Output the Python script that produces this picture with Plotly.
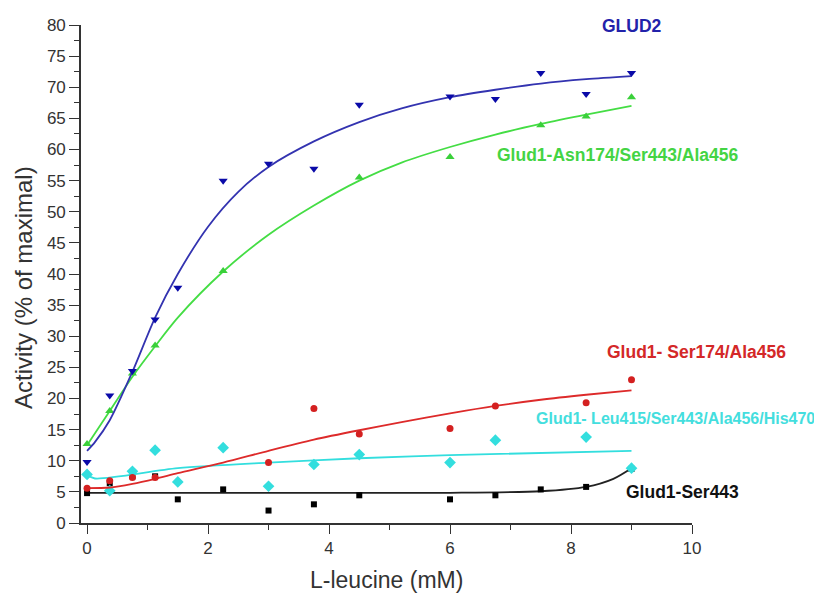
import plotly.graph_objects as go

# ---- data points ----
x_all = [0, 0.375, 0.75, 1.125, 1.5, 2.25, 3, 3.75, 4.5, 6, 6.75, 7.5, 8.25, 9]
glud2_y = [9.8, 20.5, 24.4, 32.7, 37.8, 55.0, 57.7, 56.9, 67.2, 68.5, 68.1, 72.3, 68.9, 72.3]

asn_x = [0, 0.375, 0.75, 1.125, 2.25, 4.5, 6, 7.5, 8.25, 9]
asn_y = [12.7, 18.0, 24.0, 28.5, 40.5, 55.5, 58.8, 63.9, 65.3, 68.4]

ser174_x = [0, 0.375, 0.75, 1.125, 3, 3.75, 4.5, 6, 6.75, 8.25, 9]
ser174_y = [5.6, 6.8, 7.3, 7.3, 9.7, 18.4, 14.3, 15.2, 18.8, 19.3, 23.0]

leu_x = [0, 0.375, 0.75, 1.125, 1.5, 2.25, 3, 3.75, 4.5, 6, 6.75, 8.25, 9]
leu_y = [7.8, 5.2, 8.3, 11.7, 6.6, 12.1, 5.9, 9.4, 11.0, 9.7, 13.3, 13.8, 8.8]

ser443_x = [0, 0.375, 0.75, 1.125, 1.5, 2.25, 3, 3.75, 4.5, 6, 6.75, 7.5, 8.25, 9]
ser443_y = [4.8, 6.4, 7.5, 7.5, 3.8, 5.4, 2.0, 3.0, 4.45, 3.8, 4.45, 5.4, 5.8, 8.7]

# ---- fitted curves ----
glud2_fit_x = [0, 0.13, 0.375, 0.75, 1.125, 1.5, 2.0, 2.5, 3, 3.75, 4.5, 5.2, 6, 6.75, 7.5, 8.25, 9]
glud2_fit_y = [11.6, 13.0, 16.5, 24.3, 33.0, 40.0, 47.6, 53.2, 57.2, 61.3, 64.4, 66.6, 68.4, 69.6, 70.6, 71.3, 71.8]

asn_fit_x = [0, 0.375, 0.75, 1.125, 1.5, 2.25, 3, 3.75, 4.5, 5.2, 6, 6.75, 7.5, 8.25, 9]
asn_fit_y = [12.5, 18.0, 23.5, 28.4, 33.0, 40.4, 46.3, 51.0, 55.0, 57.9, 60.4, 62.4, 64.1, 65.6, 67.0]

ser174_fit_x = [0, 0.375, 0.75, 1.125, 1.5, 2.25, 3, 3.75, 4.5, 5.2, 6, 6.75, 7.5, 8.25, 9]
ser174_fit_y = [5.6, 5.7, 6.3, 7.1, 8.0, 9.7, 11.6, 13.4, 14.9, 16.2, 17.6, 18.8, 19.8, 20.6, 21.3]

leu_fit_x = [0, 0.13, 1.5, 3, 4.5, 6, 9]
leu_fit_y = [7.7, 7.15, 8.8, 9.7, 10.4, 10.9, 11.6]

ser443_fit_x = [0, 3, 6, 7.5, 8.25, 8.7, 9]
ser443_fit_y = [4.85, 4.85, 4.85, 5.1, 5.8, 7.1, 8.8]

labels = ["GLUD2", "Glud1-Asn174/Ser443/Ala456", "Glud1- Ser174/Ala456",
          "Glud1- Leu415/Ser443/Ala456/His470", "Glud1-Ser443"]
x_title = "L-leucine (mM)"
y_title = "Activity (% of maximal)"

FONT = "Liberation Sans, Arial, sans-serif"
fig = go.Figure()

def add_series(fx, fy, px, py, lcolor, mcolor, symbol, msize, name):
    fig.add_trace(go.Scatter(x=fx, y=fy, mode="lines",
                             line=dict(color=lcolor, width=1.8, shape="spline", smoothing=0.8),
                             showlegend=False, hoverinfo="skip", name=name))
    fig.add_trace(go.Scatter(x=px, y=py, mode="markers",
                             marker=dict(symbol=symbol, size=msize, color=mcolor, line=dict(width=0)),
                             showlegend=False, name=name))

add_series(ser443_fit_x, ser443_fit_y, ser443_x, ser443_y, "#222222", "#000000", "square", 6, labels[4])
add_series(leu_fit_x, leu_fit_y, leu_x, leu_y, "#33dede", "#33dede", "diamond", 9, labels[3])
add_series(ser174_fit_x, ser174_fit_y, ser174_x, ser174_y, "#dd2a2a", "#d42020", "circle", 7, labels[2])
add_series(asn_fit_x, asn_fit_y, asn_x, asn_y, "#44dd44", "#3ad03a", "triangle-up", 8, labels[1])
add_series(glud2_fit_x, glud2_fit_y, x_all, glud2_y, "#3333b0", "#0a0aa8", "triangle-down", 8, labels[0])

L, R, T, B = 81, 122, 25, 71
W, H = 814, 594
pw, ph = W - L - R, H - T - B

def px2paper(xp, yp):
    return (xp - L) / pw, 1 - (yp - T) / ph

ann = [
    (labels[0], 632, 26, "#2222aa", "center", 17.5),
    (labels[1], 618, 155, "#44d444", "center", 17.5),
    (labels[2], 696, 352, "#d42828", "center", 17.5),
    (labels[3], 534, 418, "#44dede", "left", 16),
    (labels[4], 682, 492, "#111111", "center", 17.5),
]
for t, xp, yp, c, anc, fs in ann:
    ax, ay = px2paper(xp, yp)
    fig.add_annotation(text="<b>%s</b>" % t, x=ax, y=ay, xref="paper", yref="paper",
                       xanchor=anc, yanchor="middle", showarrow=False,
                       font=dict(family=FONT, size=fs, color=c))

ax, ay = px2paper(386, 580)
fig.add_annotation(text=x_title, x=ax, y=ay, xref="paper", yref="paper", xanchor="center", yanchor="middle",
                   showarrow=False, font=dict(family=FONT, size=23, color="#333333"))
ax, ay = px2paper(23, 288)
fig.add_annotation(text=y_title, x=ax, y=ay, xref="paper", yref="paper", xanchor="center", yanchor="middle",
                   textangle=-90, showarrow=False, font=dict(family=FONT, size=24, color="#333333"))

fig.update_layout(
    width=W, height=H,
    margin=dict(l=L, r=R, t=T, b=B),
    paper_bgcolor="white", plot_bgcolor="white",
    font=dict(family=FONT, color="#333333"),
    xaxis=dict(range=[-0.1, 10], tickmode="array", tickvals=[0, 2, 4, 6, 8, 10],
               ticks="outside", ticklen=9, tickwidth=1.4, tickcolor="#333",
               minor=dict(tickmode="array", tickvals=[1, 3, 5, 7, 9], ticks="outside", ticklen=5, tickcolor="#333", tickwidth=1.2),
               showline=True, linecolor="#333", linewidth=1.6, showgrid=False, zeroline=False,
               tickfont=dict(size=17, color="#333")),
    yaxis=dict(range=[0, 80], tickmode="array", tickvals=list(range(0, 81, 5)),
               ticks="outside", ticklen=10, tickwidth=1.4, tickcolor="#333",
               minor=dict(tickmode="array", tickvals=[2.5 + 5 * i for i in range(16)], ticks="outside", ticklen=5, tickcolor="#333", tickwidth=1.2),
               showline=True, linecolor="#333", linewidth=1.6, showgrid=False, zeroline=False,
               tickfont=dict(size=17, color="#333")),
)

fig.write_html("out.html")
